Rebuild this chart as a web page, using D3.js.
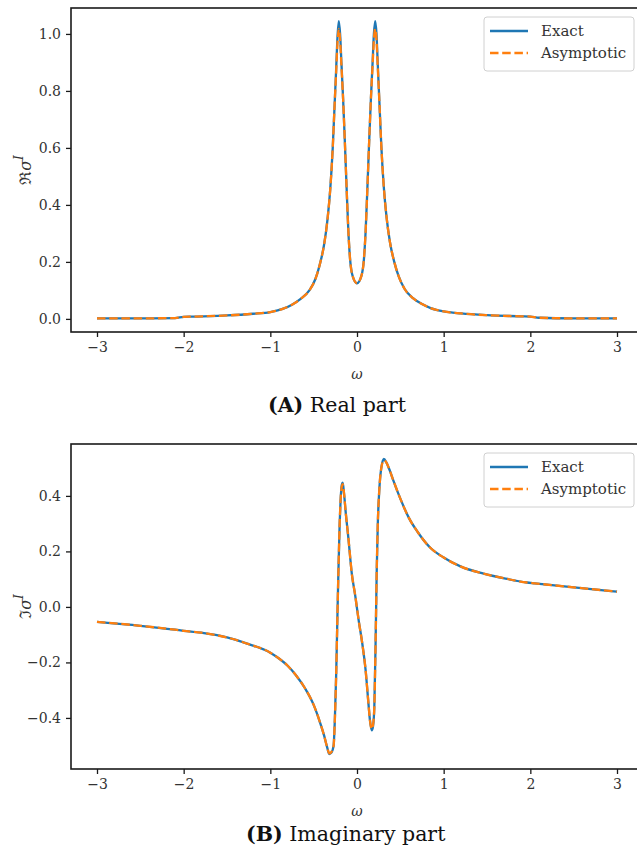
<!DOCTYPE html>
<html>
<head>
<meta charset="utf-8">
<script src="https://cdn.jsdelivr.net/npm/d3@7"></script>
<style>
  body { margin: 0; background: #fff; }
  svg { display: block; font-family: "DejaVu Serif", "Liberation Serif", serif; }
</style>
</head>
<body>
<svg id="chart" width="637" height="850"></svg>
<script>
// ---- data ----
const xTicks = [-3, -2, -1, 0, 1, 2, 3];
const realTicks = [0.0, 0.2, 0.4, 0.6, 0.8, 1.0];
const imagTicks = [-0.4, -0.2, 0.0, 0.2, 0.4];
const seriesNames = ["Exact", "Asymptotic"];

const realOmega = [-3.0, -2.5, -2.1, -2.0, -1.9, -1.5, -1.2, -1.0, -0.85, -0.75, -0.65, -0.55, -0.48, -0.43, -0.38, -0.34, -0.31, -0.28, -0.26, -0.24, -0.225, -0.21, -0.195, -0.18, -0.16, -0.14, -0.12, -0.10, -0.08, -0.05, 0.0,
  0.05, 0.08, 0.10, 0.12, 0.14, 0.16, 0.18, 0.195, 0.21, 0.225, 0.24, 0.26, 0.28, 0.31, 0.34, 0.38, 0.43, 0.48, 0.55, 0.65, 0.75, 0.85, 1.0, 1.2, 1.5, 1.9, 2.0, 2.1, 2.5, 3.0];
const realExact = [0.002, 0.002, 0.003, 0.007, 0.008, 0.012, 0.018, 0.024, 0.036, 0.05, 0.07, 0.10, 0.14, 0.19, 0.26, 0.35, 0.45, 0.60, 0.74, 0.88, 0.99, 1.045, 1.00, 0.90, 0.77, 0.62, 0.46, 0.31, 0.21, 0.15, 0.125,
  0.15, 0.21, 0.31, 0.46, 0.62, 0.77, 0.90, 1.00, 1.045, 1.00, 0.89, 0.75, 0.61, 0.46, 0.36, 0.27, 0.20, 0.15, 0.105, 0.072, 0.052, 0.038, 0.026, 0.019, 0.013, 0.009, 0.008, 0.004, 0.002, 0.002];
const realAsym = [0.002, 0.002, 0.003, 0.007, 0.008, 0.012, 0.018, 0.024, 0.036, 0.05, 0.07, 0.10, 0.14, 0.19, 0.26, 0.35, 0.45, 0.60, 0.74, 0.87, 0.97, 1.018, 0.98, 0.89, 0.77, 0.62, 0.46, 0.31, 0.21, 0.15, 0.125,
  0.15, 0.21, 0.31, 0.46, 0.62, 0.77, 0.89, 0.98, 1.018, 0.98, 0.88, 0.75, 0.61, 0.46, 0.36, 0.27, 0.20, 0.15, 0.105, 0.072, 0.052, 0.038, 0.026, 0.019, 0.013, 0.009, 0.008, 0.004, 0.002, 0.002];

const imagOmega = [-3.0, -2.5, -2.1, -2.0, -1.8, -1.5, -1.25, -1.0, -0.9, -0.8, -0.7, -0.6, -0.5, -0.43, -0.38, -0.345, -0.32, -0.295, -0.27, -0.255, -0.24, -0.225, -0.215, -0.20, -0.19, -0.175, -0.165, -0.15, -0.13, -0.10, -0.06, -0.02,
  0.02, 0.06, 0.10, 0.13, 0.15, 0.17, 0.185, 0.20, 0.215, 0.227, 0.24, 0.257, 0.28, 0.31, 0.34, 0.38, 0.42, 0.5, 0.6, 0.7, 0.84, 1.0, 1.2, 1.46, 1.7, 1.96, 2.05, 2.42, 3.0];
const imagExact = [-0.054, -0.068, -0.082, -0.086, -0.093, -0.11, -0.134, -0.165, -0.186, -0.212, -0.248, -0.293, -0.353, -0.413, -0.463, -0.505, -0.53, -0.525, -0.50, -0.40, -0.24, -0.02, 0.12, 0.30, 0.38, 0.44, 0.448, 0.41, 0.34, 0.25, 0.12, 0.04,
  -0.05, -0.13, -0.23, -0.34, -0.41, -0.445, -0.43, -0.36, -0.12, 0.12, 0.30, 0.42, 0.50, 0.533, 0.52, 0.49, 0.455, 0.39, 0.32, 0.27, 0.215, 0.178, 0.145, 0.12, 0.103, 0.088, 0.085, 0.073, 0.055];
const imagAsym = [-0.054, -0.068, -0.082, -0.086, -0.093, -0.11, -0.134, -0.165, -0.186, -0.212, -0.248, -0.293, -0.353, -0.413, -0.463, -0.505, -0.528, -0.522, -0.50, -0.40, -0.24, -0.02, 0.12, 0.30, 0.38, 0.435, 0.442, 0.41, 0.34, 0.25, 0.12, 0.04,
  -0.05, -0.13, -0.23, -0.34, -0.41, -0.44, -0.425, -0.36, -0.12, 0.12, 0.30, 0.42, 0.50, 0.528, 0.52, 0.49, 0.455, 0.39, 0.32, 0.27, 0.215, 0.178, 0.145, 0.12, 0.103, 0.088, 0.085, 0.073, 0.055];

const blue = "#1f77b4", orange = "#ff7f0e";
const dash = "8.5,3.7";
const svg = d3.select("#chart");

function panel(cfg) {
  const x = d3.scaleLinear().domain([-3.3, 3.3]).range([71, 643]);
  const y = d3.scaleLinear().domain(cfg.yDomain).range([cfg.bottom, cfg.top]);
  const g = svg.append("g");

  const line = d3.line().x(d => x(d[0])).y(d => y(d[1])).curve(d3.curveMonotoneX);
  const exact = cfg.omega.map((w, i) => [w, cfg.exact[i]]);
  const asym = cfg.omega.map((w, i) => [w, cfg.asym[i]]);

  g.append("path").attr("d", line(exact)).attr("fill", "none")
    .attr("stroke", blue).attr("stroke-width", 2.3).attr("stroke-linejoin", "round");
  g.append("path").attr("d", line(asym)).attr("fill", "none")
    .attr("stroke", orange).attr("stroke-width", 2.3).attr("stroke-dasharray", dash);

  // axes
  const xa = g.append("g").attr("transform", `translate(0,${cfg.bottom})`)
    .call(d3.axisBottom(x).tickValues(xTicks).tickSize(5).tickPadding(5).tickSizeOuter(0).tickFormat(d3.format("d")));
  const ya = g.append("g").attr("transform", "translate(71,0)")
    .call(d3.axisLeft(y).tickValues(cfg.yTicks).tickSize(5).tickPadding(5).tickSizeOuter(0).tickFormat(d3.format(".1f")));
  [xa, ya].forEach(a => {
    a.select(".domain").remove();
    a.selectAll("line").attr("stroke", "#1a1a1a").attr("stroke-width", 1.3);
    a.selectAll("text").attr("fill", "#333").attr("font-size", 14).attr("font-family", "DejaVu Serif, serif");
  });

  // spines
  g.append("rect").attr("x", 71).attr("y", cfg.top).attr("width", 643 - 71).attr("height", cfg.bottom - cfg.top)
    .attr("fill", "none").attr("stroke", "#1a1a1a").attr("stroke-width", 1.6);

  // labels
  g.append("text").attr("x", 357).attr("y", cfg.bottom + 47).attr("text-anchor", "middle")
    .attr("font-size", 14).attr("font-style", "italic").attr("fill", "#333").text("ω");
  const yl = g.append("text").attr("transform", `translate(31,${(cfg.top + cfg.bottom) / 2}) rotate(-90)`)
    .attr("text-anchor", "middle").attr("font-size", 16).attr("fill", "#333");
  yl.append("tspan").text(cfg.ySym);
  yl.append("tspan").attr("font-style", "italic").text("σ");
  yl.append("tspan").attr("font-style", "italic").attr("font-size", 12).attr("dy", -8).text("I");

  const t = g.append("text").attr("x", cfg.titleX).attr("y", cfg.titleY).attr("font-size", 20.5).attr("fill", "#111");
  t.append("tspan").attr("font-weight", "bold").text(cfg.tag);
  t.append("tspan").text(" " + cfg.title);

  // legend
  const lx = 484, ly = cfg.top + 9;
  g.append("rect").attr("x", lx).attr("y", ly).attr("width", 150).attr("height", 54).attr("rx", 3)
    .attr("fill", "#fff").attr("fill-opacity", 0.8).attr("stroke", "#d0d0d0").attr("stroke-width", 1);
  seriesNames.forEach((name, i) => {
    const yy = ly + 14 + i * 22;
    g.append("line").attr("x1", lx + 6).attr("x2", lx + 44).attr("y1", yy).attr("y2", yy)
      .attr("stroke", i ? orange : blue).attr("stroke-width", 2.3)
      .attr("stroke-dasharray", i ? dash : null);
    g.append("text").attr("x", lx + 57).attr("y", yy + 5).attr("font-size", 15).attr("fill", "#333").text(name);
  });
}

panel({ omega: realOmega, exact: realExact, asym: realAsym, yDomain: [-0.046, 1.091], yTicks: realTicks,
  top: 8, bottom: 332, ySym: "ℜ", tag: "(A)", title: "Real part", titleX: 268, titleY: 412 });
panel({ omega: imagOmega, exact: imagExact, asym: imagAsym, yDomain: [-0.584, 0.587], yTicks: imagTicks,
  top: 444, bottom: 769, ySym: "ℑ", tag: "(B)", title: "Imaginary part", titleX: 246, titleY: 841 });
</script>
</body>
</html>
